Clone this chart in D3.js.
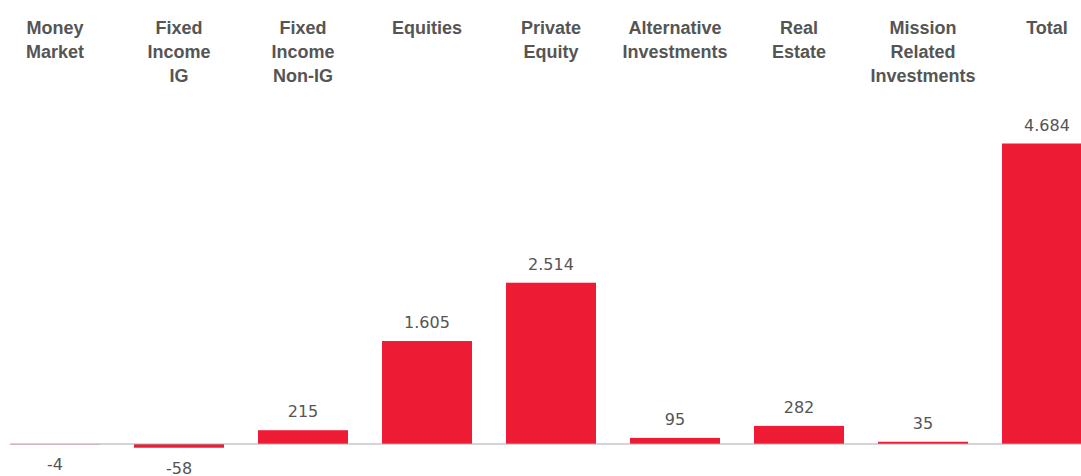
<!DOCTYPE html>
<html><head><meta charset="utf-8">
<script src="https://cdn.jsdelivr.net/npm/d3@7"></script>
<style>html,body{margin:0;padding:0;background:#fff;overflow:hidden}</style>
</head><body>
<svg id="chart" width="1081" height="476"></svg>
<script>
const categories = ["Money Market","Fixed Income IG","Fixed Income Non-IG","Equities","Private Equity","Alternative Investments","Real Estate","Mission Related Investments","Total"];
const categoryLines = [["Money","Market"],["Fixed","Income","IG"],["Fixed","Income","Non-IG"],["Equities"],["Private","Equity"],["Alternative","Investments"],["Real","Estate"],["Mission","Related","Investments"],["Total"]];
const values = [-4,-58,215,1605,2514,95,282,35,4684];
const valueLabels = ["-4","-58","215","1.605","2.514","95","282","35","4.684"];

const svg = d3.select("#chart");
const x = d3.scaleBand().domain(categories).range([10,1092]).paddingInner(34/124).paddingOuter(0);
const y = d3.scaleLinear().domain([0,4684]).range([444,143.5]);

const red = "#ED1B34";
svg.selectAll("rect.bar").data(values).join("rect")
  .attr("class","bar")
  .attr("x",(d,i)=>x(categories[i]))
  .attr("width",x.bandwidth())
  .attr("y",d=>Math.min(y(d),y(0)))
  .attr("height",d=>Math.abs(y(d)-y(0)))
  .attr("fill",red);

svg.append("line").attr("x1",10).attr("x2",1081).attr("y1",y(0)).attr("y2",y(0))
  .attr("stroke","#aaaaaa").attr("stroke-width",1);

svg.selectAll("text.val").data(values).join("text")
  .attr("class","val")
  .attr("x",(d,i)=>x(categories[i])+x.bandwidth()/2)
  .attr("y",d=> d>=0 ? y(d)-13 : y(d)+26)
  .attr("text-anchor","middle")
  .attr("font-family","DejaVu Sans, sans-serif")
  .attr("font-size",16)
  .attr("fill","#555")
  .text((d,i)=>valueLabels[i]);

const hdr = svg.selectAll("text.hdr").data(categoryLines).join("text")
  .attr("class","hdr")
  .attr("text-anchor","middle")
  .attr("font-family","Liberation Sans, Arial, sans-serif")
  .attr("font-weight","bold")
  .attr("font-size",18)
  .attr("fill","#555");
hdr.each(function(lines,i){
  const cx = x(categories[i])+x.bandwidth()/2;
  d3.select(this).selectAll("tspan").data(lines).join("tspan")
    .attr("x",cx).attr("y",(l,j)=>33.5+24*j).text(l=>l);
});
</script>
</body></html>
